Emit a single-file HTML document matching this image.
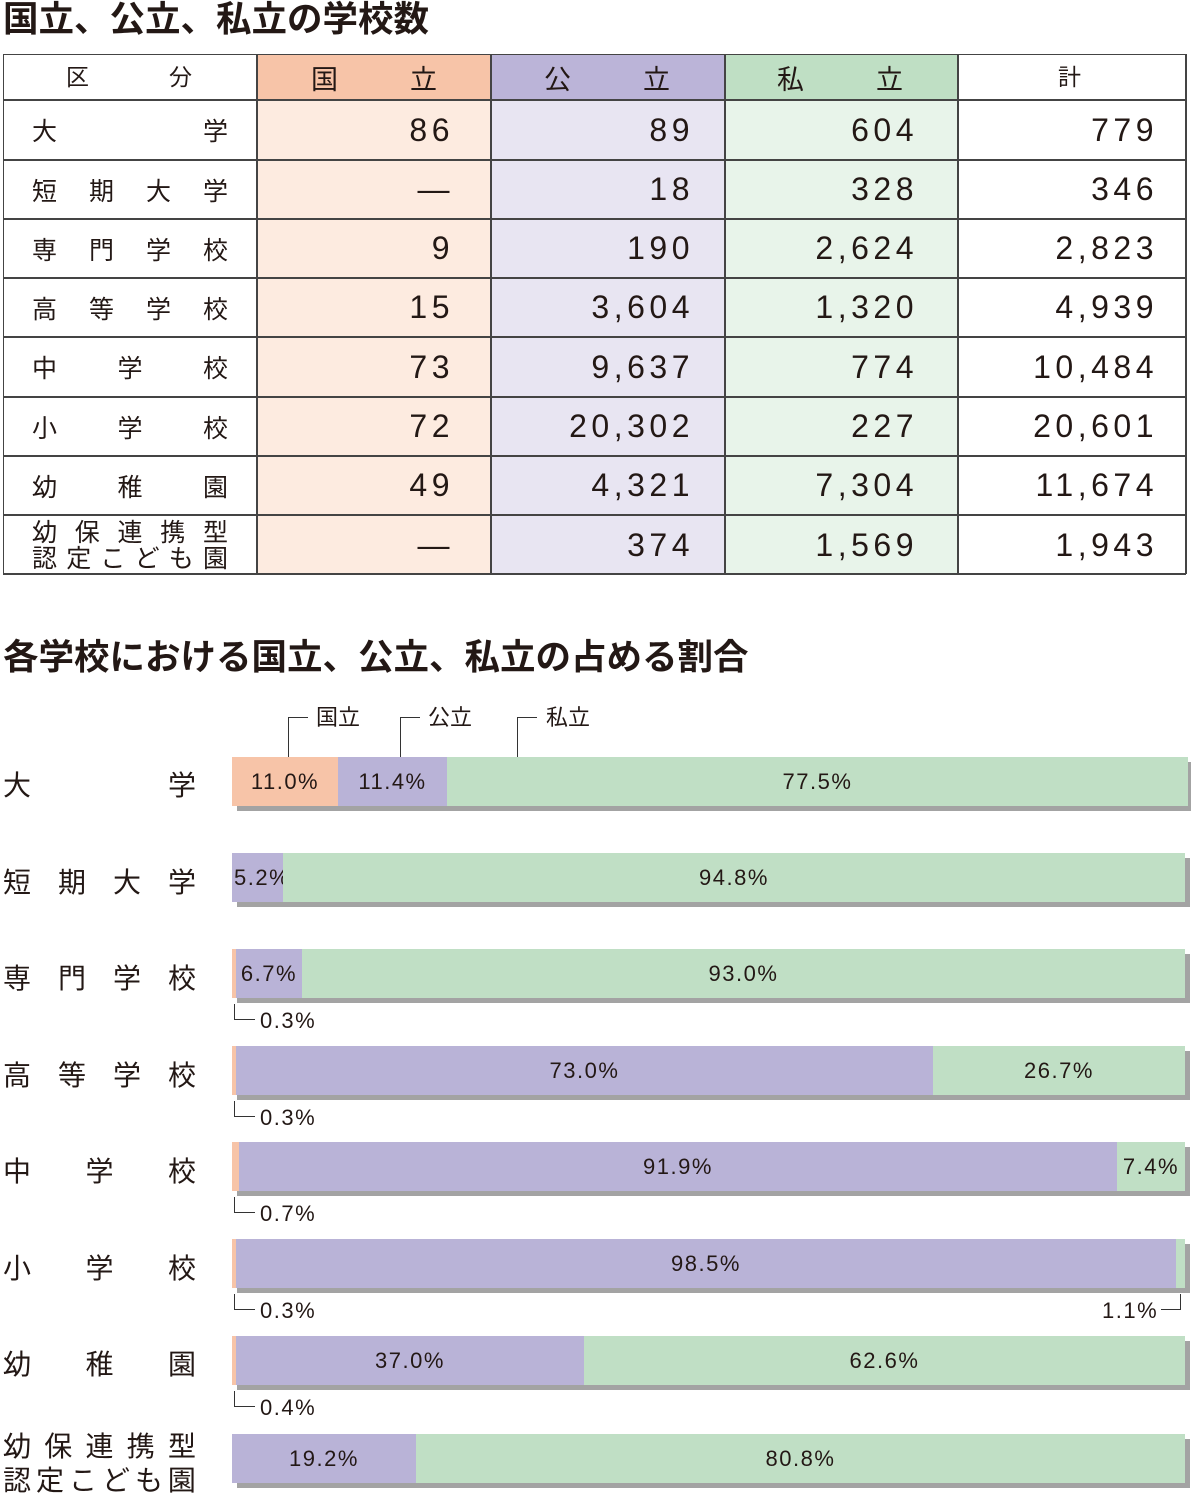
<!DOCTYPE html>
<html><head><meta charset="utf-8"><style>
*{margin:0;padding:0;box-sizing:border-box}
body{width:1191px;height:1506px;background:#fff;position:relative;overflow:hidden;font-family:"Liberation Sans","Noto Sans CJK JP",sans-serif;color:#231815}
.a{position:absolute}
.t{font-size:35.5px;font-weight:bold;white-space:nowrap;line-height:1}
.lab{position:absolute;display:flex;justify-content:space-between;align-items:center;font-size:25px}
.num{position:absolute;text-align:right;font-size:32px;letter-spacing:4.5px}
.bar{position:absolute;left:232px;width:953px;height:49px;box-shadow:5px 5px 0 #a3a3a3;display:flex;background:#c0dfc5}
.bar div{height:100%;display:flex;align-items:center;justify-content:center;font-size:22px;letter-spacing:1.5px;overflow:visible;white-space:nowrap}
.n{background:#f7c4a8}.p{background:#b9b3d7}.s{background:#c0dfc5;flex:1}
.rl{position:absolute;left:3px;width:193px;display:flex;justify-content:space-between;font-size:28px}
.ld{position:absolute;border-left:1.5px solid #333;border-bottom:1.5px solid #333}
.sm{position:absolute;font-size:22px;letter-spacing:1.5px}
</style></head><body>
<div class="a t" style="left:3px;top:2px">国立、公立、私立の学校数</div>

<div class="a" style="left:3px;top:54px;width:1183px;height:520px;border:1.5px solid #444;border-right:none;border-bottom:none"></div>
<div class="a" style="left:257px;top:55px;width:233px;height:45px;background:#f7c4a8"></div>
<div class="a" style="left:490px;top:55px;width:234px;height:45px;background:#bbb4d8"></div>
<div class="a" style="left:724px;top:55px;width:233px;height:45px;background:#bfdfc4"></div>
<div class="a" style="left:257px;top:100px;width:233px;height:474px;background:#fdebe0"></div>
<div class="a" style="left:490px;top:100px;width:234px;height:474px;background:#e8e5f2"></div>
<div class="a" style="left:724px;top:100px;width:233px;height:474px;background:#e8f4ea"></div>
<div class="a" style="left:256px;top:54px;width:1.5px;height:520px;background:#444"></div>
<div class="a" style="left:490px;top:54px;width:1.5px;height:520px;background:#444"></div>
<div class="a" style="left:724px;top:54px;width:1.5px;height:520px;background:#444"></div>
<div class="a" style="left:957px;top:54px;width:1.5px;height:520px;background:#444"></div>
<div class="a" style="left:1185px;top:54px;width:1.5px;height:520px;background:#444"></div>
<div class="a" style="left:3px;top:99px;width:1183px;height:1.5px;background:#444"></div>
<div class="a" style="left:3px;top:159px;width:1183px;height:1.5px;background:#444"></div>
<div class="a" style="left:3px;top:218px;width:1183px;height:1.5px;background:#444"></div>
<div class="a" style="left:3px;top:277px;width:1183px;height:1.5px;background:#444"></div>
<div class="a" style="left:3px;top:336px;width:1183px;height:1.5px;background:#444"></div>
<div class="a" style="left:3px;top:396px;width:1183px;height:1.5px;background:#444"></div>
<div class="a" style="left:3px;top:455px;width:1183px;height:1.5px;background:#444"></div>
<div class="a" style="left:3px;top:514px;width:1183px;height:1.5px;background:#444"></div>
<div class="a" style="left:3px;top:573px;width:1183px;height:1.5px;background:#444"></div>

<div class="lab" style="left:66px;top:58px;width:126px;height:34px;font-size:23px"><span>区</span><span>分</span></div>
<div class="lab" style="left:311px;top:58px;width:126px;height:38px;font-size:27px"><span>国</span><span>立</span></div>
<div class="lab" style="left:544px;top:58px;width:126px;height:38px;font-size:27px"><span>公</span><span>立</span></div>
<div class="lab" style="left:777px;top:58px;width:126px;height:38px;font-size:27px"><span>私</span><span>立</span></div>
<div class="lab" style="left:1058px;top:58px;width:26px;height:34px;font-size:23px"><span>計</span></div>

<div class="lab" style="left:32px;top:110px;width:196px;height:40px"><span>大</span><span>学</span></div>
<div class="lab" style="left:32px;top:170px;width:196px;height:40px"><span>短</span><span>期</span><span>大</span><span>学</span></div>
<div class="lab" style="left:32px;top:229px;width:196px;height:40px"><span>専</span><span>門</span><span>学</span><span>校</span></div>
<div class="lab" style="left:32px;top:288px;width:196px;height:40px"><span>高</span><span>等</span><span>学</span><span>校</span></div>
<div class="lab" style="left:32px;top:347px;width:196px;height:40px"><span>中</span><span>学</span><span>校</span></div>
<div class="lab" style="left:32px;top:407px;width:196px;height:40px"><span>小</span><span>学</span><span>校</span></div>
<div class="lab" style="left:32px;top:466px;width:196px;height:40px"><span>幼</span><span>稚</span><span>園</span></div>
<div class="lab" style="left:32px;top:517px;width:196px;height:28px"><span>幼</span><span>保</span><span>連</span><span>携</span><span>型</span></div>
<div class="lab" style="left:32px;top:543px;width:196px;height:28px"><span>認</span><span>定</span><span>こ</span><span>ど</span><span>も</span><span>園</span></div>

<div class="num" style="left:260px;top:112px;width:194px">86</div>
<div class="num" style="left:494px;top:112px;width:200px">89</div>
<div class="num" style="left:728px;top:112px;width:190px">604</div>
<div class="num" style="left:960px;top:112px;width:198px">779</div>
<div class="num" style="left:260px;top:171px;width:194px">—</div>
<div class="num" style="left:494px;top:171px;width:200px">18</div>
<div class="num" style="left:728px;top:171px;width:190px">328</div>
<div class="num" style="left:960px;top:171px;width:198px">346</div>
<div class="num" style="left:260px;top:230px;width:194px">9</div>
<div class="num" style="left:494px;top:230px;width:200px">190</div>
<div class="num" style="left:728px;top:230px;width:190px">2,624</div>
<div class="num" style="left:960px;top:230px;width:198px">2,823</div>
<div class="num" style="left:260px;top:289px;width:194px">15</div>
<div class="num" style="left:494px;top:289px;width:200px">3,604</div>
<div class="num" style="left:728px;top:289px;width:190px">1,320</div>
<div class="num" style="left:960px;top:289px;width:198px">4,939</div>
<div class="num" style="left:260px;top:349px;width:194px">73</div>
<div class="num" style="left:494px;top:349px;width:200px">9,637</div>
<div class="num" style="left:728px;top:349px;width:190px">774</div>
<div class="num" style="left:960px;top:349px;width:198px">10,484</div>
<div class="num" style="left:260px;top:408px;width:194px">72</div>
<div class="num" style="left:494px;top:408px;width:200px">20,302</div>
<div class="num" style="left:728px;top:408px;width:190px">227</div>
<div class="num" style="left:960px;top:408px;width:198px">20,601</div>
<div class="num" style="left:260px;top:467px;width:194px">49</div>
<div class="num" style="left:494px;top:467px;width:200px">4,321</div>
<div class="num" style="left:728px;top:467px;width:190px">7,304</div>
<div class="num" style="left:960px;top:467px;width:198px">11,674</div>
<div class="num" style="left:260px;top:527px;width:194px">—</div>
<div class="num" style="left:494px;top:527px;width:200px">374</div>
<div class="num" style="left:728px;top:527px;width:190px">1,569</div>
<div class="num" style="left:960px;top:527px;width:198px">1,943</div>

<div class="a t" style="left:3px;top:640px">各学校における国立、公立、私立の占める割合</div>

<div class="a" style="left:288px;top:717px;width:20px;height:40px;border-left:1.5px solid #333;border-top:1.5px solid #333"></div>
<div class="a" style="left:400px;top:717px;width:20px;height:40px;border-left:1.5px solid #333;border-top:1.5px solid #333"></div>
<div class="a" style="left:517px;top:717px;width:20px;height:40px;border-left:1.5px solid #333;border-top:1.5px solid #333"></div>
<div class="sm" style="left:316px;top:700px;letter-spacing:0">国立</div>
<div class="sm" style="left:428px;top:700px;letter-spacing:0">公立</div>
<div class="sm" style="left:546px;top:700px;letter-spacing:0">私立</div>

<div class="rl" style="top:764px"><span>大</span><span>学</span></div>
<div class="rl" style="top:861px"><span>短</span><span>期</span><span>大</span><span>学</span></div>
<div class="rl" style="top:957px"><span>専</span><span>門</span><span>学</span><span>校</span></div>
<div class="rl" style="top:1054px"><span>高</span><span>等</span><span>学</span><span>校</span></div>
<div class="rl" style="top:1150px"><span>中</span><span>学</span><span>校</span></div>
<div class="rl" style="top:1247px"><span>小</span><span>学</span><span>校</span></div>
<div class="rl" style="top:1343px"><span>幼</span><span>稚</span><span>園</span></div>
<div class="rl" style="top:1425px"><span>幼</span><span>保</span><span>連</span><span>携</span><span>型</span></div>
<div class="rl" style="top:1459px"><span>認</span><span>定</span><span>こ</span><span>ど</span><span>も</span><span>園</span></div>

<div class="bar" style="top:757px;width:956px"><div class="n" style="width:106px">11.0%</div><div class="p" style="width:109px">11.4%</div><div class="s">77.5%</div></div>
<div class="bar" style="top:853px"><div class="p" style="width:51px;justify-content:flex-start;padding-left:2px">5.2%</div><div class="s">94.8%</div></div>
<div class="bar" style="top:949px"><div class="n" style="width:4px"></div><div class="p" style="width:66px">6.7%</div><div class="s">93.0%</div></div>
<div class="bar" style="top:1046px"><div class="n" style="width:4px"></div><div class="p" style="width:697px">73.0%</div><div class="s">26.7%</div></div>
<div class="bar" style="top:1142px"><div class="n" style="width:7px"></div><div class="p" style="width:878px">91.9%</div><div class="s">7.4%</div></div>
<div class="bar" style="top:1239px"><div class="n" style="width:4px"></div><div class="p" style="width:940px">98.5%</div><div class="s"></div></div>
<div class="bar" style="top:1336px"><div class="n" style="width:4px"></div><div class="p" style="width:348px">37.0%</div><div class="s">62.6%</div></div>
<div class="bar" style="top:1434px"><div class="p" style="width:184px">19.2%</div><div class="s">80.8%</div></div>

<div class="ld" style="left:234px;top:1004px;width:21px;height:16px"></div><div class="sm" style="left:260px;top:1008px">0.3%</div>
<div class="ld" style="left:234px;top:1101px;width:21px;height:16px"></div><div class="sm" style="left:260px;top:1105px">0.3%</div>
<div class="ld" style="left:234px;top:1197px;width:21px;height:16px"></div><div class="sm" style="left:260px;top:1201px">0.7%</div>
<div class="ld" style="left:234px;top:1294px;width:21px;height:16px"></div><div class="sm" style="left:260px;top:1298px">0.3%</div>
<div class="ld" style="left:234px;top:1391px;width:21px;height:16px"></div><div class="sm" style="left:260px;top:1395px">0.4%</div>
<div class="a" style="left:1161px;top:1294px;width:20px;height:16px;border-right:1.5px solid #333;border-bottom:1.5px solid #333"></div><div class="sm" style="left:1102px;top:1298px">1.1%</div>
</body></html>
